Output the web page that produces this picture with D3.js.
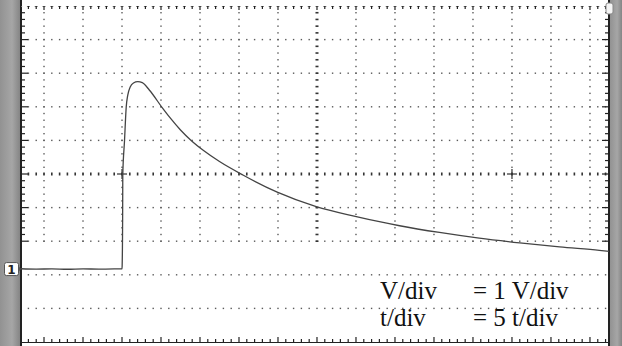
<!DOCTYPE html>
<html>
<head>
<meta charset="utf-8">
<script src="https://cdn.jsdelivr.net/npm/d3@7"></script>
<style>
  body { margin: 0; background: #fff; }
  svg { display: block; }
</style>
</head>
<body>
<svg id="scope" width="622" height="346"></svg>
<script>
// trace: time in t units (0 = step), voltage in V (ch1 ground = 0)
const traceT = [-12.95, -11, -9, -7, -5, -3, -1, 0,
  0.02, 0.08, 0.1, 0.32, 0.54, 0.74, 1.05, 1.47, 2.03, 2.6, 3.5, 5.2, 6.1, 7.5, 8.9,
  10.5, 12.5, 15.5, 19.9, 24.9, 29.9, 33.0, 35.6, 40.7, 45.8, 51.0, 56.1, 61.2, 62.44];
const traceV = [0.01, 0, 0.005, -0.005, 0.005, 0, 0.005, 0.01,
  0.1, 1.5, 2.8, 3.81, 4.82, 5.18, 5.42, 5.54, 5.58, 5.55, 5.33, 4.79, 4.52, 4.14, 3.82,
  3.52, 3.2, 2.8, 2.29, 1.86, 1.57, 1.41, 1.29, 1.09, 0.92, 0.78, 0.66, 0.56, 0.53];

// screen settings
const tDomain = [-12.95, 62.44];
const vDomain = [-2.17, 7.83];
const tCenter = 25, tPerDiv = 5;
const vCenter = 2.83, vPerDiv = 1;
const markerT = [0, 50];          // the two "+" marks on the centre line
const chLabel = "1";
const infoNames = ["V/div", "t/div"];
const infoValues = ["= 1 V/div", "= 5 t/div"];

const svg = d3.select('#scope');
const x = d3.scaleLinear().domain(tDomain).range([21, 609]);
const y = d3.scaleLinear().domain(vDomain).range([342, 6]);

// grey side bars of the scope screen
const grad = svg.append('defs').append('linearGradient').attr('id', 'bar');
grad.append('stop').attr('offset', '0%').attr('stop-color', '#929292');
grad.append('stop').attr('offset', '60%').attr('stop-color', '#a6a6a6');
grad.append('stop').attr('offset', '100%').attr('stop-color', '#858585');
svg.append('rect').attr('x', 0).attr('y', 0).attr('width', 20).attr('height', 346).style('fill', 'url(#bar)');
svg.append('rect').attr('x', 610).attr('y', 0).attr('width', 12).attr('height', 346).style('fill', 'url(#bar)');

// major grid positions
const majorT = d3.range(-7, 8).map(k => tCenter + k * tPerDiv).filter(t => t > tDomain[0] && t < tDomain[1]);
const majorV = d3.range(-4, 5).map(k => vCenter + k * vPerDiv);
const minorT = d3.range(-12, 63).filter(t => t > tDomain[0] && t < tDomain[1]);
const minorV = d3.range(-10, 26).map(n => +(vCenter + n * 0.2).toFixed(2)).filter(v => v > vDomain[0] && v < vDomain[1]);

const grid = svg.append('g').style('fill', '#5a5a5a');
// dotted horizontal lines
majorV.forEach(v => {
  if (v === vCenter) return;
  grid.selectAll(null).data(minorT).enter().append('rect')
      .attr('x', d => x(d) - 0.7).attr('y', y(v) - 0.7)
      .attr('width', 1.4).attr('height', 1.4);
});
// dotted vertical lines
majorT.forEach(t => {
  if (t === tCenter) return;
  grid.selectAll(null).data(minorV).enter().append('rect')
      .attr('x', x(t) - 0.7).attr('y', d => y(d) - 0.7)
      .attr('width', 1.4).attr('height', 1.4);
});

// centre lines carry small ticks
const centre = svg.append('g').style('fill', '#333');
centre.selectAll(null).data(minorT).enter().append('rect')
    .attr('x', d => x(d) - 0.8).attr('y', y(vCenter) - 1.5)
    .attr('width', 1.6).attr('height', 3);
centre.selectAll(null).data(minorV).enter().append('rect')
    .attr('x', x(tCenter) - 1.5).attr('y', d => y(d) - 0.8)
    .attr('width', 3).attr('height', 1.6);

// "+" marks
markerT.forEach(t => {
  centre.append('rect').attr('x', x(t) - 5).attr('y', y(vCenter) - 0.6).attr('width', 10).attr('height', 1.2);
  centre.append('rect').attr('x', x(t) - 0.6).attr('y', y(vCenter) - 5).attr('width', 1.2).attr('height', 10);
});

// screen border with ticks
const border = svg.append('g').style('stroke', '#222');
border.append('line').attr('x1', 21).attr('x2', 21).attr('y1', 0).attr('y2', 346).style('stroke-width', 2);
border.append('line').attr('x1', 609).attr('x2', 609).attr('y1', 0).attr('y2', 346).style('stroke-width', 2);
border.append('line').attr('x1', 21).attr('x2', 609).attr('y1', 342.5).attr('y2', 342.5).style('stroke-width', 1);
border.append('line').attr('x1', 21).attr('x2', 609).attr('y1', 6.5).attr('y2', 6.5)
    .style('stroke', '#777').style('stroke-width', 1).style('stroke-dasharray', '3,4.8')
    .style('stroke-dashoffset', -(x(minorT[0]) - 21 - 1.5));

const isMajorV = v => majorV.concat(vDomain).some(m => Math.abs(m - v) < 0.01);
const isMajorT = t => majorT.some(m => Math.abs(m - t) < 0.01);
border.selectAll(null).data(minorV).enter().append('line')
    .attr('x1', 21).attr('x2', d => isMajorV(d) ? 28 : 25)
    .attr('y1', d => y(d)).attr('y2', d => y(d)).style('stroke-width', 1.2);
border.selectAll(null).data(minorV).enter().append('line')
    .attr('x1', 609).attr('x2', d => isMajorV(d) ? 602 : 605)
    .attr('y1', d => y(d)).attr('y2', d => y(d)).style('stroke-width', 1.2);
border.selectAll(null).data(minorT).enter().append('line')
    .attr('x1', d => x(d)).attr('x2', d => x(d))
    .attr('y1', 342).attr('y2', d => isMajorT(d) ? 337 : 339).style('stroke-width', 1.2);
border.selectAll(null).data(minorT).enter().append('line')
    .attr('x1', d => x(d)).attr('x2', d => x(d))
    .attr('y1', 6).attr('y2', d => isMajorT(d) ? 10 : 9).style('stroke-width', 1.2);

// the trace
const line = d3.line()
    .x((d, i) => x(traceT[i]))
    .y(d => y(d))
    .curve(d3.curveMonotoneX);
svg.append('path')
    .datum(traceV)
    .attr('d', line)
    .style('fill', 'none')
    .style('stroke', '#444')
    .style('stroke-width', 1.3);

// channel 1 ground marker
const mk = svg.append('g').attr('transform', `translate(4, ${y(0)})`);
mk.append('rect').attr('x', 0.5).attr('y', -6.5).attr('rx', 2).attr('width', 14).attr('height', 13)
    .style('fill', '#fff').style('stroke', '#555').style('stroke-width', 1);
mk.append('path').attr('d', 'M14.5,-3 L17,0 L14.5,3 Z').style('fill', '#555');
mk.append('text').attr('x', 7.5).attr('y', 4.5).attr('text-anchor', 'middle')
    .style('font-family', 'DejaVu Sans, sans-serif').style('font-size', '12px').style('font-weight', 'bold')
    .style('fill', '#222').text(chLabel);

// trigger glyph at the top right
svg.append('rect').attr('x', 606).attr('y', 3).attr('rx', 2).attr('width', 7).attr('height', 11)
    .style('fill', '#f4f4f4').style('stroke', '#888').style('stroke-width', 1);

// settings readout
const info = svg.append('g')
    .style('font-family', '"Liberation Serif", "Times New Roman", serif')
    .style('font-size', '25px')
    .style('fill', '#111');
info.selectAll(null).data(infoNames).enter().append('text')
    .attr('x', 380).attr('y', (d, i) => 299 + i * 27).text(d => d);
info.selectAll(null).data(infoValues).enter().append('text')
    .attr('x', 473).attr('y', (d, i) => 299 + i * 27)
    .attr('xml:space', 'preserve').style('white-space', 'pre').text(d => d);
</script>
</body>
</html>
